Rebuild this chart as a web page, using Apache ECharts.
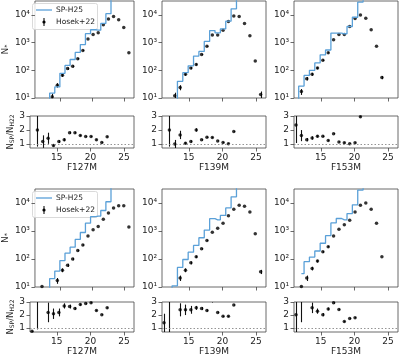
<!DOCTYPE html>
<html>
<head>
<meta charset="utf-8">
<script src="https://cdn.jsdelivr.net/npm/echarts@6/dist/echarts.min.js"></script>
<style>
  html, body { margin: 0; padding: 0; background: #fff; }
  #chart { width: 400px; height: 357px; }
</style>
</head>
<body>
<div id="chart"></div>
<script>
// bin centres (mag), shared by every panel
var mags = [11.3, 12.1, 12.9, 13.7, 14.5, 15.3, 16.1, 16.9, 17.7, 18.5, 19.3, 20.1, 20.9, 21.7, 22.5, 23.3, 24.1, 24.9, 25.7];
var filters = ["F127M", "F139M", "F153M", "F127M", "F139M", "F153M"];

// SP-H25 step histograms
var sp1 = [null, 3, 6, 15, 25, 78, 150, 245, 440, 850, 2100, 2900, 2800, 4900, 11000, 60000];
var sp2 = [null, 4, 8, 40, 82, 145, 326, 480, 1100, 2700, 2250, 3100, 5900, 16500, 60000];
var sp3 = [3, 27, 65, 100, 185, 360, 540, 2200, 2200, 2080, 3800, 8200, 29000, 60000];
var sp4 = [null, 4, 7, 20, 37, 88, 162, 265, 500, 885, 1900, 3250, 3400, 5400, 11100, 60000];
var sp5 = [null, 4, 11, 50, 96, 175, 306, 575, 1080, 2750, 2500, 3600, 6650, 16600, 60000];
var sp6 = [null, 30, 80, 117, 193, 365, 680, 1950, 2800, 2500, 4200, 8600, 29000, 60000];

// Hosek+22 counts and errors
var h1 = [null, null, null, 11, 29, 66, 115, 139, 262, 520, 1350, 1940, 2240, 4380, 7050, 8700, 6630, 3520, 430];
var h2 = [null, null, 12, 24, 72, 120, 163, 370, 740, 1880, 1880, 2800, 5700, 9100, 8700, 4900, 1780, 215, 13.5];
var h3 = [null, 17, 50, 72, 120, 230, 430, 1260, 1940, 1940, 3800, 7400, 9800, 7600, 2900, 740, 55];
var h4 = [null, 10.5, null, null, 17, 40, 60, 100, 200, 316, 660, 1100, 1450, 2650, 4350, 6600, 7900, 7900, 1380];
var h5 = [null, null, null, 21, 40, 73, 120, 230, 460, 910, 1260, 1900, 3500, 6000, 8300, 7600, 4800, 790, 35];
var h6 = [null, 10.5, 21, 46, 84, 180, 275, 660, 1150, 1660, 2400, 4800, 8300, 10000, 6000, 1900, 120];
var hErr1 = [0, 0, 0, 3.3, 5.4, 8, 11, 12, 16, 23];
var hErr2 = [0, 0, 3.5, 5, 8.5, 11, 13, 19, 27, 0, 0, 0, 0, 0, 0, 0, 0, 0, 3.7];
var hErr3 = [0, 4.1, 7, 8.5, 11, 15, 21, 0, 0, 0, 0, 0, 0, 0, 0, 0, 7.4];
var hErr4 = [0, 0, 0, 0, 4, 6.3, 7.7, 10, 14, 18];
var hErr5 = [0, 0, 0, 4.6, 6.3, 8.5, 11, 15, 21, 0, 0, 0, 0, 0, 0, 0, 0, 0, 6];
var hErr6 = [0, 0, 4.6, 6.8, 9, 13, 16];

// ratios N_SP / N_H22 and errors
var r1 = [null, 2.0, 1.16, 1.4, 0.88, 1.16, 1.29, 1.8, 1.8, 1.6, 1.52, 1.52, 1.29, 1.1, 1.5];
var r2 = [null, 2.0, 0.98, 1.64, 1.05, 1.17, 2.0, 1.29, 1.48, 1.45, 1.21, 1.1, 1.0, 1.88];
var r3 = [2.36, 1.59, 1.3, 1.42, 1.54, 1.54, 1.24, 1.73, 1.14, 1.07, 1.0, 1.07, 2.95];
var r4 = [0.75, 3.5, null, 2.2, 2.1, 2.2, 2.7, 2.65, 2.5, 2.8, 2.88, 2.95, 2.35, 2.03, 2.55];
var r5 = [1.4, 3.5, null, 2.4, 2.4, 2.4, 2.55, 2.5, 2.35, 3.02, 2.2, 1.9, 1.9, 2.77];
var r6 = [2.03, 3.2, null, 2.55, 2.3, 2.03, 2.47, 2.95, 2.43, 1.5, 1.74, 1.8];
var rErr1 = [0, 1.2, 0.45, 0.4, 0.07, 0.1, 0.1, 0.08, 0.07, 0.05, 0.04, 0.04, 0.04, 0.04, 0.04];
var rErr2 = [0, 1.2, 0.3, 0.3, 0.07, 0.08, 0.12, 0.06, 0.05, 0.04, 0.04, 0.04, 0.04, 0.04];
var rErr3 = [1.3, 0.4, 0.12, 0.12, 0.08, 0.06, 0.05, 0.05, 0.04, 0.04, 0.04, 0.04, 0.04];
var rErr4 = [0.05, 2.6, 0, 0.75, 0.4, 0.3, 0.2, 0.15, 0.1, 0.08, 0.06, 0.05, 0.05, 0.05, 0.05];
var rErr5 = [0.7, 2.9, 0, 0.5, 0.4, 0.3, 0.15, 0.12, 0.08, 0.06, 0.06, 0.05, 0.05, 0.05];
var rErr6 = [1.5, 1.75, 0, 0.4, 0.2, 0.12, 0.1, 0.08, 0.06, 0.05, 0.05, 0.05];

var xTicks = [15, 20, 25];
var logTicks = [10, 100, 1000, 10000];
var ratioTicks = [1, 2, 3];

var panels = [
  { sp: sp1, h: h1, hErr: hErr1, r: r1, rErr: rErr1 },
  { sp: sp2, h: h2, hErr: hErr2, r: r2, rErr: rErr2 },
  { sp: sp3, h: h3, hErr: hErr3, r: r3, rErr: rErr3 },
  { sp: sp4, h: h4, hErr: hErr4, r: r4, rErr: rErr4 },
  { sp: sp5, h: h5, hErr: hErr5, r: r5, rErr: rErr5 },
  { sp: sp6, h: h6, hErr: hErr6, r: r6, rErr: rErr6 }
];

var FONT = "DejaVu Sans";
var AX = "#444";
var BLUE = "#5aa0d8";
var colLeft = [30, 162, 294];
var colW = 104;
var mainTop = [1, 189], mainH = [97, 98];
var ratTop = [116, 302], ratH = [32, 34];
var sup = { 10: "10\u00b9", 100: "10\u00b2", 1000: "10\u00b3", 10000: "10\u2074" };

function points(vals) {
  var out = [];
  for (var i = 0; i < vals.length; i++) if (vals[i] != null) out.push([mags[i], vals[i]]);
  return out;
}
function bars(vals, errs) {
  var out = [];
  for (var i = 0; i < vals.length; i++) {
    var e = errs[i] || 0;
    if (vals[i] != null && e > 0) out.push([mags[i], Math.max(vals[i] - e, 1e-3), vals[i] + e]);
  }
  return out;
}
function errRender(params, api) {
  var x = api.value(0);
  var p1 = api.coord([x, api.value(2)]), p2 = api.coord([x, api.value(1)]);
  var cs = params.coordSys;
  var top = Math.max(p1[1], cs.y), bot = Math.min(p2[1], cs.y + cs.height);
  if (bot <= top) return;
  var px = Math.round(p1[0]) + 0.5;
  return { type: "line", shape: { x1: px, y1: top, x2: px, y2: bot },
           style: { stroke: "#111", lineWidth: 1.1 } };
}

var grids = [], xAxes = [], yAxes = [], series = [];
var tickStyle = { show: true, length: 3.5, lineStyle: { color: AX, width: 0.8 } };
var labelStyle = { color: "#222", fontSize: 9, fontFamily: FONT };

panels.forEach(function (p, k) {
  var row = k < 3 ? 0 : 1, col = k % 3;
  var gm = grids.length;
  grids.push({ left: colLeft[col], top: mainTop[row], width: colW, height: mainH[row],
               show: true, borderColor: AX, borderWidth: 0.8 });
  grids.push({ left: colLeft[col], top: ratTop[row], width: colW, height: ratH[row],
               show: true, borderColor: AX, borderWidth: 0.8 });

  xAxes.push({ gridIndex: gm, type: "value", min: 11, max: 26.5,
    axisLine: { show: false }, splitLine: { show: false },
    axisTick: Object.assign({ customValues: xTicks }, tickStyle),
    axisLabel: { show: false } });
  xAxes.push({ gridIndex: gm + 1, type: "value", min: 11, max: 26.5,
    name: filters[k], nameLocation: "middle", nameGap: 15,
    nameTextStyle: { color: "#222", fontSize: 9, fontFamily: FONT },
    axisLine: { show: false }, splitLine: { show: false },
    axisTick: Object.assign({ customValues: xTicks }, tickStyle),
    axisLabel: Object.assign({ customValues: xTicks, margin: 5 }, labelStyle) });

  yAxes.push({ gridIndex: gm, type: "log", logBase: 10, min: 10, max: 31623,
    name: col === 0 ? "N{s|*}" : "", nameLocation: "middle", nameGap: 21,
    nameTextStyle: { color: "#222", fontSize: 9, fontFamily: FONT,
      rich: { s: { fontSize: 6.5, fontFamily: FONT, color: "#222", padding: [4, 0, 0, 0] } } },
    axisLine: { show: false }, splitLine: { show: false },
    axisTick: Object.assign({ customValues: logTicks }, tickStyle),
    axisLabel: Object.assign({ customValues: logTicks, margin: 5,
      formatter: function (v) { return sup[Math.round(v)] || ""; } }, labelStyle) });
  yAxes.push({ gridIndex: gm + 1, type: "value", min: 0.7, max: 3,
    name: col === 0 ? "N{s|SP}/N{s|H22}" : "", nameLocation: "middle", nameGap: 13,
    nameTextStyle: { color: "#222", fontSize: 8.5, fontFamily: FONT,
      rich: { s: { fontSize: 6, fontFamily: FONT, color: "#222", padding: [4, 0, 0, 0] } } },
    axisLine: { show: false }, splitLine: { show: false },
    axisTick: Object.assign({ customValues: ratioTicks }, tickStyle),
    axisLabel: Object.assign({ customValues: ratioTicks, margin: 5 }, labelStyle) });

  series.push({ name: "SP-H25", type: "line", xAxisIndex: gm, yAxisIndex: gm,
    data: points(p.sp), step: "middle", symbol: "none", clip: true,
    lineStyle: { color: BLUE, width: 1.3 }, silent: true, animation: false });
  series.push({ type: "custom", xAxisIndex: gm, yAxisIndex: gm,
    data: bars(p.h, p.hErr), renderItem: errRender, animation: false, silent: true });
  series.push({ name: "Hosek+22", type: "scatter", xAxisIndex: gm, yAxisIndex: gm,
    data: points(p.h), symbolSize: 3.5, clip: true,
    itemStyle: { color: "#000" }, silent: true, animation: false });

  series.push({ type: "custom", xAxisIndex: gm + 1, yAxisIndex: gm + 1,
    data: bars(p.r, p.rErr), renderItem: errRender, animation: false, silent: true });
  series.push({ type: "scatter", xAxisIndex: gm + 1, yAxisIndex: gm + 1,
    data: points(p.r), symbolSize: 3.5, clip: true,
    itemStyle: { color: "#000" }, silent: true, animation: false,
    markLine: { silent: true, symbol: "none", label: { show: false },
      lineStyle: { color: "#888", type: [1.5, 2], width: 0.9 },
      data: [{ yAxis: 1 }] } });
});

// legends (one per row), drawn as graphics
var graphics = [];
[0, 188].forEach(function (dy) {
  graphics.push({ type: "rect", shape: { x: 32.5, y: 3.5 + dy, width: 65, height: 26, r: 2 },
    style: { fill: "rgba(255,255,255,0.8)", stroke: "#d0d0d0", lineWidth: 0.8 } });
  graphics.push({ type: "line", shape: { x1: 36, y1: 10 + dy, x2: 52, y2: 10 + dy },
    style: { stroke: BLUE, lineWidth: 1.3 } });
  graphics.push({ type: "text", x: 56, y: 10 + dy,
    style: { text: "SP-H25", fill: "#222", fontSize: 7.5, fontFamily: FONT, textVerticalAlign: "middle" } });
  graphics.push({ type: "line", shape: { x1: 44, y1: 18 + dy, x2: 44, y2: 26 + dy },
    style: { stroke: "#111", lineWidth: 1.1 } });
  graphics.push({ type: "circle", shape: { cx: 44, cy: 22 + dy, r: 1.6 }, style: { fill: "#000" } });
  graphics.push({ type: "text", x: 56, y: 22 + dy,
    style: { text: "Hosek+22", fill: "#222", fontSize: 7.5, fontFamily: FONT, textVerticalAlign: "middle" } });
});

var myChart = echarts.init(document.getElementById("chart"), null, { renderer: "canvas" });
myChart.setOption({
  animation: false,
  grid: grids,
  xAxis: xAxes,
  yAxis: yAxes,
  series: series,
  graphic: graphics
});
</script>
</body>
</html>
